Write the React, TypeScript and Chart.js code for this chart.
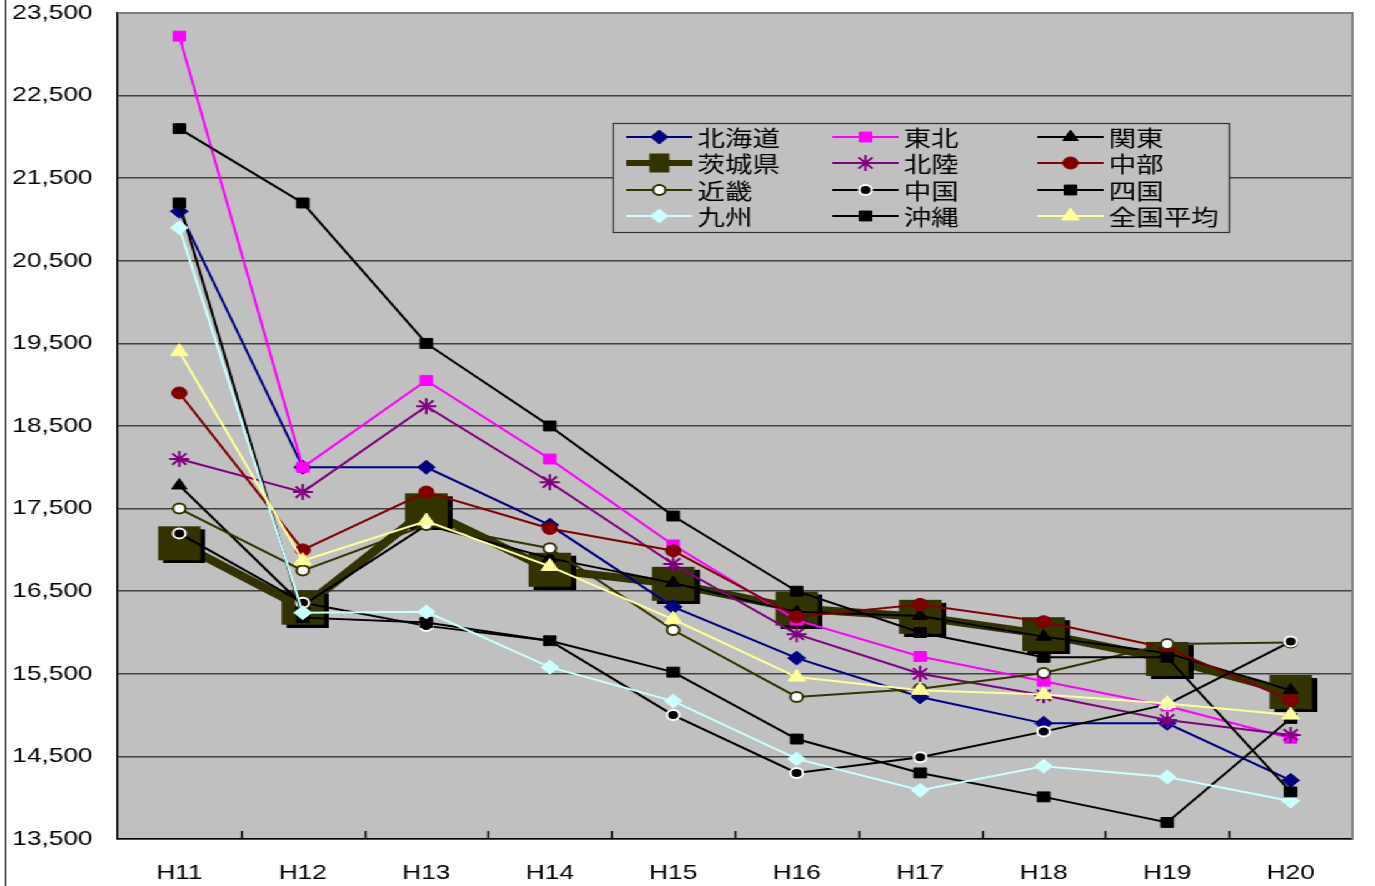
import React, { useEffect, useRef } from 'react';
import { Chart, registerables } from 'chart.js';
import { drawPoint } from 'chart.js/helpers';

Chart.register(...registerables);

// ---- Data ----
const categories = ['H11', 'H12', 'H13', 'H14', 'H15', 'H16', 'H17', 'H18', 'H19', 'H20'];

const hokkaido = [21100, 18000, 18000, 17300, 16310, 15690, 15220, 14900, 14900, 14210];
const tohoku = [23220, 18000, 19050, 18100, 17060, 16150, 15710, 15410, 15110, 14720];
const kanto = [17780, 16330, 17300, 16900, 16600, 16250, 16200, 15950, 15750, 15300];
const ibaraki = [17080, 16300, 17480, 16760, 16590, 16290, 16190, 15980, 15680, 15280];
const hokuriku = [18100, 17700, 18740, 17820, 16830, 15980, 15500, 15240, 14940, 14760];
const chubu = [18900, 17000, 17700, 17260, 16990, 16190, 16340, 16130, 15810, 15180];
const kinki = [17500, 16750, 17300, 17020, 16030, 15220, 15320, 15510, 15860, 15880];
const chugoku = [17200, 16360, 16080, 15900, 15000, 14300, 14490, 14800, 15130, 15890];
const shikoku = [21200, 16180, 16120, 15900, 15520, 14710, 14300, 14010, 13700, 14960];
const kyushu = [20900, 16240, 16250, 15580, 15170, 14470, 14090, 14380, 14250, 13960];
const okinawa = [22100, 21200, 19500, 18500, 17410, 16500, 16000, 15700, 15700, 14070];
const national = [19400, 16870, 17350, 16800, 16160, 15460, 15300, 15250, 15140, 15000];

const yMin = 13500;
const yMax = 23500;
const yStep = 1000;

function makeIbarakiMarker(): HTMLCanvasElement {
  const c = document.createElement('canvas');
  c.width = 42;
  c.height = 40;
  const g = c.getContext('2d')!;
  g.fillStyle = '#000000';
  g.fillRect(8, 6, 34, 34);
  g.fillStyle = '#333300';
  g.fillRect(4, 3, 34, 34);
  return c;
}

const W = 1100;
const H = 886;
const PLOT_LEFT = 94;
const PLOT_RIGHT = 1082;
const PLOT_TOP = 13;
const PLOT_BOTTOM = 839;

const bgPlugin = {
  id: 'plotBg',
  beforeDraw(chart: any) {
    const { ctx, chartArea } = chart;
    ctx.save();
    ctx.fillStyle = '#C0C0C0';
    ctx.fillRect(chartArea.left, chartArea.top, chartArea.right - chartArea.left, chartArea.bottom - chartArea.top);
    ctx.strokeStyle = '#000';
    ctx.lineWidth = 1;
    ctx.beginPath();
    ctx.moveTo(4.5, 0);
    ctx.lineTo(4.5, H);
    ctx.stroke();
    ctx.restore();
  },
};

const framePlugin = {
  id: 'plotFrame',
  afterDraw(chart: any) {
    const { ctx, chartArea } = chart;
    const x = chart.scales.x;
    ctx.save();
    ctx.strokeStyle = '#808080';
    ctx.lineWidth = 2;
    ctx.beginPath();
    ctx.moveTo(chartArea.left, chartArea.top);
    ctx.lineTo(chartArea.right, chartArea.top);
    ctx.lineTo(chartArea.right, chartArea.bottom);
    ctx.stroke();
    // inward tick marks on category boundaries
    ctx.strokeStyle = '#000';
    ctx.lineWidth = 1.5;
    ctx.beginPath();
    for (let i = 1; i < categories.length; i++) {
      const px = Math.round(x.getPixelForValue(i - 0.5)) + 0.5;
      ctx.moveTo(px, chartArea.bottom);
      ctx.lineTo(px, chartArea.bottom - 8);
    }
    ctx.stroke();
    ctx.restore();
  },
};

const legendPlugin = {
  id: 'boxLegend',
  afterDraw(chart: any) {
    const { ctx } = chart;
    const bx = 490.5, by = 123.5, bw = 493, bh = 109;
    ctx.save();
    ctx.fillStyle = '#C0C0C0';
    ctx.fillRect(bx, by, bw, bh);
    ctx.strokeStyle = '#333';
    ctx.lineWidth = 1.2;
    ctx.strokeRect(bx, by, bw, bh);
    const colX = [501, 666, 830];
    const rowY = [137, 163, 190, 216];
    const lineLen = 53;
    chart.data.datasets.forEach((ds: any, i: number) => {
      const col = i % 3;
      const row = Math.floor(i / 3);
      const x0 = colX[col];
      const y = rowY[row];
      ctx.strokeStyle = ds.borderColor;
      ctx.lineWidth = ds.legendLineWidth ?? ds.borderWidth;
      ctx.beginPath();
      ctx.moveTo(x0, y);
      ctx.lineTo(x0 + lineLen, y);
      ctx.stroke();
      const cx = x0 + lineLen / 2;
      if (ds.legendRect) {
        ctx.fillStyle = ds.borderColor;
        ctx.fillRect(cx - 8, y - 9.5, 16, 19);
      } else {
        ctx.fillStyle = ds.pointBackgroundColor;
        ctx.strokeStyle = ds.pointBorderColor;
        ctx.lineWidth = ds.pointBorderWidth;
        drawPoint(ctx, {
          pointStyle: ds.pointStyle,
          radius: ds.pointRadius,
          rotation: 0,
          borderWidth: ds.pointBorderWidth,
        } as any, cx, y);
      }
      ctx.fillStyle = '#000';
      ctx.font = '22px "Noto Sans CJK JP"';
      ctx.textBaseline = 'middle';
      ctx.textAlign = 'left';
      ctx.fillText(ds.label, x0 + lineLen + 4, y + 1);
    });
    ctx.restore();
  },
};

export default function App() {
  const canvasRef = useRef<HTMLCanvasElement | null>(null);

  useEffect(() => {
    if (!canvasRef.current) return;
    const ibarakiMarker = makeIbarakiMarker();
    const mk = (
      label: string,
      data: number[],
      line: string,
      style: any,
      radius: number,
      fill: string,
      border: string,
      pbw: number,
      order: number,
      extra: any = {}
    ) => ({
      label,
      data,
      borderColor: line,
      backgroundColor: fill,
      borderWidth: 2,
      pointStyle: style,
      pointRadius: radius,
      pointBackgroundColor: fill,
      pointBorderColor: border,
      pointBorderWidth: pbw,
      tension: 0,
      fill: false,
      order,
      ...extra,
    });

    const datasets = [
      mk('北海道', hokkaido, '#000080', 'rectRot', 7, '#000080', '#000080', 1, 50),
      mk('東北', tohoku, '#FF00FF', 'rect', 7, '#FF00FF', '#FF00FF', 1, 49),
      mk('関東', kanto, '#000000', 'triangle', 7, '#000000', '#000000', 1, 48),
      mk('茨城県', ibaraki, '#333300', ibarakiMarker, 17, '#333300', '#333300', 0, 100, {
        borderWidth: 8,
        legendLineWidth: 6,
        legendRect: true,
      }),
      mk('北陸', hokuriku, '#800080', 'star', 8, '#800080', '#800080', 2, 46),
      mk('中部', chubu, '#800000', 'circle', 6, '#800000', '#800000', 1, 45),
      mk('近畿', kinki, '#333300', 'circle', 5, '#FFFFFF', '#333300', 2, 44),
      mk('中国', chugoku, '#000000', 'circle', 5, '#000000', '#FFFFFF', 2, 43),
      mk('四国', shikoku, '#000000', 'rect', 7, '#000000', '#000000', 1, 42),
      mk('九州', kyushu, '#CCFFFF', 'rectRot', 7, '#CCFFFF', '#CCFFFF', 1, 41),
      mk('沖縄', okinawa, '#000000', 'rect', 7, '#000000', '#000000', 1, 40),
      mk('全国平均', national, '#FFFF99', 'triangle', 8, '#FFFF99', '#FFFF99', 1, 39),
    ];

    const chart = new Chart(canvasRef.current, {
      type: 'line',
      data: { labels: categories, datasets: datasets as any },
      plugins: [bgPlugin, framePlugin, legendPlugin],
      options: {
        animation: false,
        responsive: true,
        maintainAspectRatio: false,
        devicePixelRatio: 1,
        layout: {
          autoPadding: false,
          padding: { top: PLOT_TOP, right: W - PLOT_RIGHT, left: 0, bottom: 0 },
        },
        plugins: {
          legend: { display: false },
          tooltip: { enabled: false },
        },
        scales: {
          x: {
            type: 'category',
            offset: true,
            grid: { display: false, drawTicks: false },
            border: { display: true, color: '#000', width: 1.5 },
            ticks: {
              color: '#000',
              font: { family: '"Liberation Sans", Arial, sans-serif', size: 21 },
              padding: 22,
              maxRotation: 0,
              autoSkip: false,
            },
            afterFit(scale: any) {
              scale.height = H - PLOT_BOTTOM;
              scale.paddingLeft = 0;
              scale.paddingRight = 0;
            },
          },
          y: {
            type: 'linear',
            min: yMin,
            max: yMax,
            grid: { color: '#404040', lineWidth: 1.5, drawTicks: false },
            border: { display: true, color: '#000', width: 1.5 },
            ticks: {
              stepSize: yStep,
              color: '#000',
              font: { family: '"Liberation Sans", Arial, sans-serif', size: 21 },
              padding: 20,
              callback: (v: any) => Number(v).toLocaleString('en-US'),
            },
            afterFit(scale: any) {
              scale.width = PLOT_LEFT;
              scale.paddingTop = 0;
              scale.paddingBottom = 0;
            },
          },
        },
      },
    });
    return () => chart.destroy();
  }, []);

  return (
    <div
      style={{
        position: 'absolute',
        left: 0,
        top: 0,
        width: W + 'px',
        height: H + 'px',
        transform: 'scaleX(1.25)',
        transformOrigin: '0 0',
        background: '#fff',
      }}
    >
      <canvas ref={canvasRef} />
    </div>
  );
}
